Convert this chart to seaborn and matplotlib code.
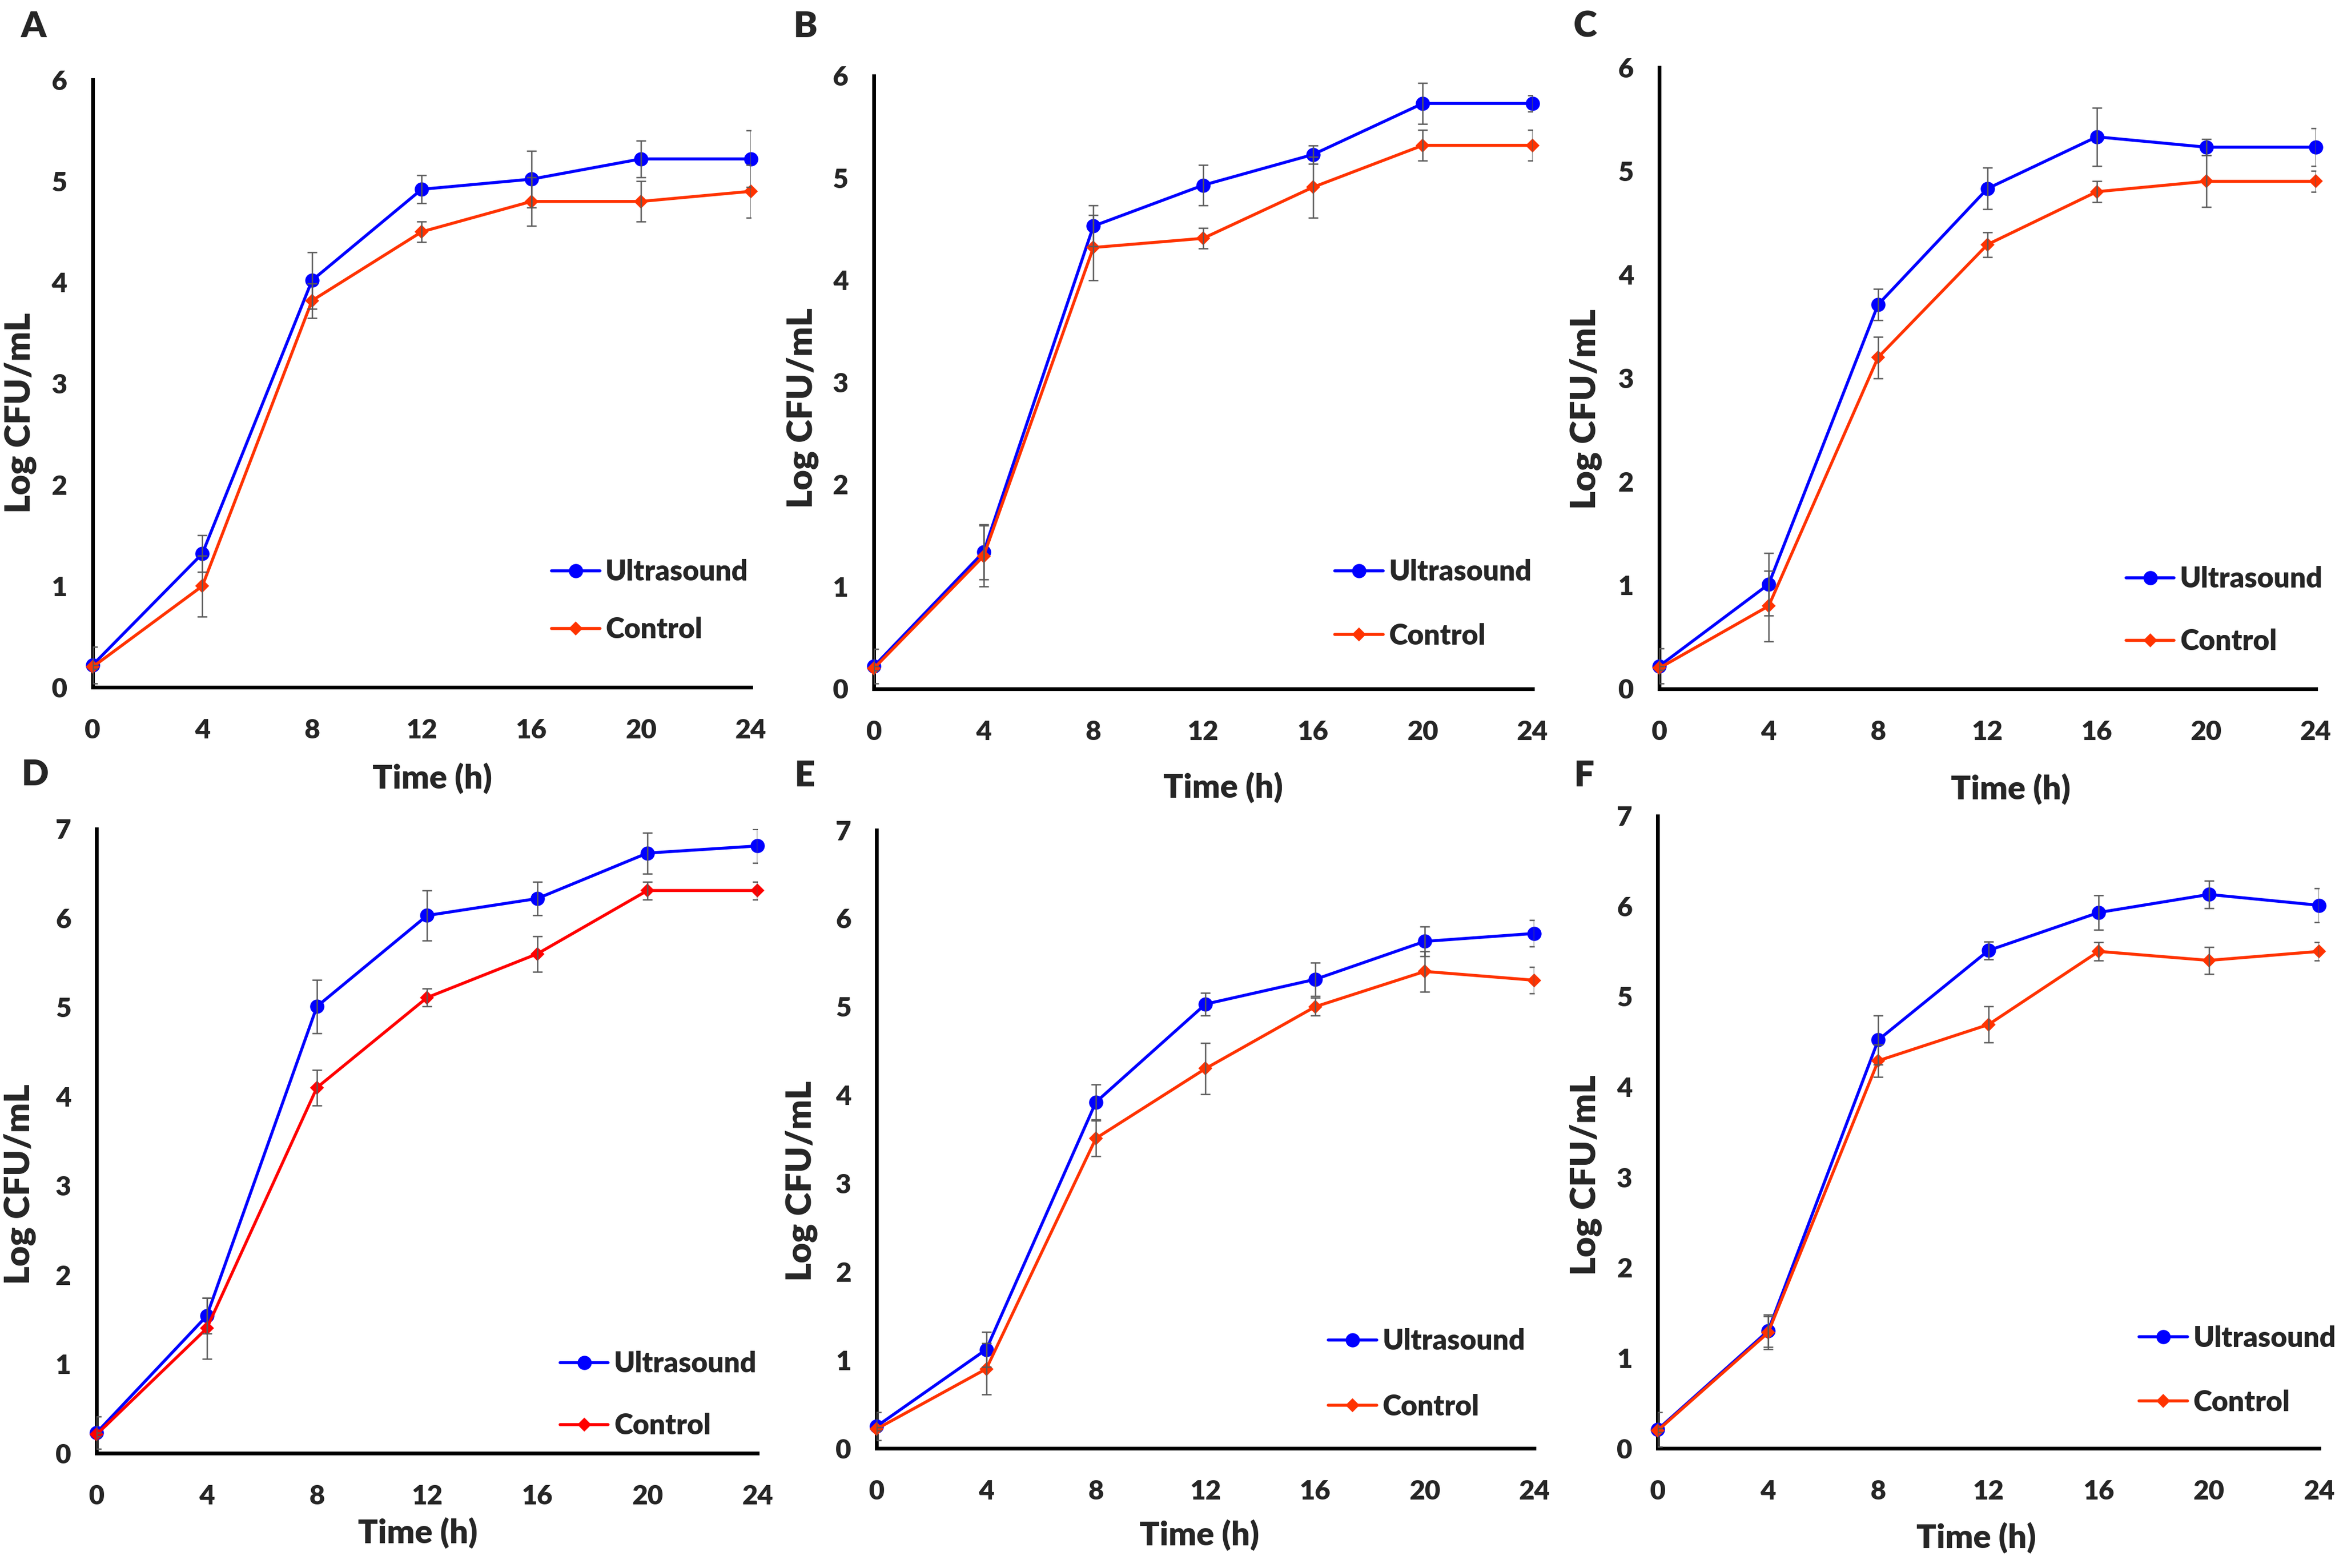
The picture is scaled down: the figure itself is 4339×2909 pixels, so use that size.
import numpy as np
import pandas as pd
import matplotlib
matplotlib.use("Agg")
import matplotlib.pyplot as plt
import seaborn as sns

# sampling times (h)
TIME_H = [0, 4, 8, 12, 16, 20, 24]
X_TICKS = [0, 4, 8, 12, 16, 20, 24]

# Log CFU/mL (mean and error bar half-length)
ULTRA_A = [0.22, 1.32, 4.02, 4.92, 5.02, 5.22, 5.22]
ULTRA_A_ERR = [0.18, 0.18, 0.28, 0.14, 0.28, 0.18, 0.28]
CTRL_A = [0.20, 1.00, 3.82, 4.50, 4.80, 4.80, 4.90]
CTRL_A_ERR = [0.02, 0.30, 0.17, 0.10, 0.24, 0.20, 0.26]

ULTRA_B = [0.22, 1.34, 4.53, 4.93, 5.23, 5.73, 5.73]
ULTRA_B_ERR = [0.17, 0.27, 0.20, 0.20, 0.09, 0.20, 0.08]
CTRL_B = [0.20, 1.30, 4.32, 4.41, 4.91, 5.32, 5.32]
CTRL_B_ERR = [0.02, 0.30, 0.32, 0.10, 0.30, 0.15, 0.15]

ULTRA_C = [0.22, 1.01, 3.71, 4.83, 5.33, 5.23, 5.23]
ULTRA_C_ERR = [0.17, 0.30, 0.15, 0.20, 0.28, 0.08, 0.18]
CTRL_C = [0.20, 0.80, 3.20, 4.29, 4.80, 4.90, 4.90]
CTRL_C_ERR = [0.02, 0.34, 0.20, 0.12, 0.10, 0.25, 0.10]

ULTRA_D = [0.23, 1.54, 5.01, 6.03, 6.22, 6.73, 6.81]
ULTRA_D_ERR = [0.18, 0.20, 0.30, 0.28, 0.19, 0.23, 0.19]
CTRL_D = [0.21, 1.40, 4.10, 5.11, 5.60, 6.31, 6.31]
CTRL_D_ERR = [0.02, 0.34, 0.20, 0.10, 0.20, 0.10, 0.10]

ULTRA_E = [0.25, 1.12, 3.92, 5.03, 5.31, 5.74, 5.83]
ULTRA_E_ERR = [0.16, 0.20, 0.20, 0.13, 0.19, 0.17, 0.15]
CTRL_E = [0.22, 0.90, 3.51, 4.30, 5.00, 5.40, 5.30]
CTRL_E_ERR = [0.02, 0.29, 0.20, 0.29, 0.10, 0.23, 0.15]

ULTRA_F = [0.21, 1.30, 4.52, 5.51, 5.93, 6.13, 6.01]
ULTRA_F_ERR = [0.19, 0.18, 0.27, 0.10, 0.19, 0.15, 0.19]
CTRL_F = [0.20, 1.28, 4.29, 4.69, 5.50, 5.40, 5.50]
CTRL_F_ERR = [0.02, 0.18, 0.18, 0.20, 0.10, 0.15, 0.10]

Y_MAX = {"A": 6, "B": 6, "C": 6, "D": 7, "E": 7, "F": 7}

BLUE = "#0000FF"
ORANGE = "#FF3300"
RED = "#FF0000"
ERR_GREY = "#595959"
WEIGHT = "heavy"

panels = {
    "A": (ULTRA_A, ULTRA_A_ERR, CTRL_A, CTRL_A_ERR, ORANGE),
    "B": (ULTRA_B, ULTRA_B_ERR, CTRL_B, CTRL_B_ERR, ORANGE),
    "C": (ULTRA_C, ULTRA_C_ERR, CTRL_C, CTRL_C_ERR, ORANGE),
    "D": (ULTRA_D, ULTRA_D_ERR, CTRL_D, CTRL_D_ERR, RED),
    "E": (ULTRA_E, ULTRA_E_ERR, CTRL_E, CTRL_E_ERR, ORANGE),
    "F": (ULTRA_F, ULTRA_F_ERR, CTRL_F, CTRL_F_ERR, ORANGE),
}

AX_RECT = {
    "A": [0.0396, 0.5617, 0.2814, 0.3873],
    "B": [0.3736, 0.5607, 0.2816, 0.3909],
    "C": [0.7094, 0.5607, 0.2806, 0.3963],
    "D": [0.0413, 0.0732, 0.2826, 0.3981],
    "E": [0.3748, 0.0763, 0.2812, 0.3943],
    "F": [0.7088, 0.0763, 0.2827, 0.4034],
}
LETTER_XY = {"A": (0.0145, 0.983), "B": (0.3443, 0.983), "C": (0.6778, 0.983),
             "D": (0.0150, 0.506), "E": (0.3439, 0.505), "F": (0.6771, 0.505)}
XLABEL_XY = {"A": (0.516, -0.150), "B": (0.530, -0.161), "C": (0.535, -0.161),
             "D": (0.486, -0.128), "E": (0.491, -0.140), "F": (0.481, -0.1415)}
YLABEL_XY = {"A": (-0.110, 0.452), "B": (-0.108, 0.458), "C": (-0.112, 0.450),
             "D": (-0.116, 0.431), "E": (-0.114, 0.432), "F": (-0.109, 0.432)}
LEGEND_XY = {"A": (0.697, 0.142), "B": (0.700, 0.138), "C": (0.711, 0.126),
             "D": (0.701, 0.093), "E": (0.687, 0.120), "F": (0.728, 0.123)}
LEGEND_GAP = {"A": 1.1, "B": 1.32, "C": 1.27, "D": 1.25, "E": 1.38, "F": 1.33}

sns.set_style("white")
plt.rcParams["font.family"] = ["Lato", "DejaVu Sans"]
plt.rcParams["font.weight"] = WEIGHT

fig = plt.figure(figsize=(4339 / 200, 2909 / 200), dpi=200)

for key, (ultra, ultra_err, ctrl, ctrl_err, ctrl_color) in panels.items():
    ax = fig.add_axes(AX_RECT[key])
    df = pd.DataFrame({
        "time": TIME_H * 2,
        "logcfu": ultra + ctrl,
        "err": ultra_err + ctrl_err,
        "group": ["Ultrasound"] * len(TIME_H) + ["Control"] * len(TIME_H),
    })
    u = df[df["group"] == "Ultrasound"]
    c = df[df["group"] == "Control"]

    sns.lineplot(data=u, x="time", y="logcfu", ax=ax, color=BLUE, marker="o",
                 markersize=9.5, markeredgewidth=0, linewidth=2.0, label="Ultrasound",
                 clip_on=False, zorder=3)
    sns.lineplot(data=c, x="time", y="logcfu", ax=ax, color=ctrl_color, marker="D",
                 markersize=6.5, markeredgewidth=0, linewidth=2.0, label="Control",
                 clip_on=False, zorder=3)
    for part in (u, c):
        ax.errorbar(part["time"], part["logcfu"], yerr=part["err"], fmt="none",
                    ecolor=ERR_GREY, elinewidth=0.9, capsize=3.4, capthick=0.9,
                    zorder=4)

    ax.set_xlim(0, 24)
    ax.set_ylim(0, Y_MAX[key])
    ax.set_xticks(X_TICKS)
    ax.set_yticks(range(0, Y_MAX[key] + 1))
    ax.tick_params(axis="both", length=0, labelsize=18)
    ax.tick_params(axis="x", pad=21)
    ax.tick_params(axis="y", pad=17)
    for lab in ax.get_xticklabels() + ax.get_yticklabels():
        lab.set_fontweight(WEIGHT)

    for side in ("top", "right"):
        ax.spines[side].set_visible(False)
    for side in ("left", "bottom"):
        ax.spines[side].set_color("black")
        ax.spines[side].set_linewidth(2.5)

    ax.set_xlabel("Time (h)", fontsize=22, fontweight=WEIGHT, va="center")
    ax.set_ylabel("Log CFU/mL", fontsize=23.5, fontweight=WEIGHT, va="center")
    ax.xaxis.set_label_coords(*XLABEL_XY[key])
    ax.yaxis.set_label_coords(*YLABEL_XY[key])

    handles, labels = ax.get_legend_handles_labels()
    ax.legend(handles, labels, loc="center left", bbox_to_anchor=LEGEND_XY[key],
              frameon=False, borderpad=0, borderaxespad=0, handlelength=1.7,
              handletextpad=0.2, labelspacing=LEGEND_GAP[key],
              prop={"size": 19, "weight": WEIGHT})

    fig.text(*LETTER_XY[key], key, fontsize=24, fontweight=WEIGHT,
             ha="center", va="center")

fig.savefig("out.png", dpi=200, facecolor="white")
plt.close(fig)
